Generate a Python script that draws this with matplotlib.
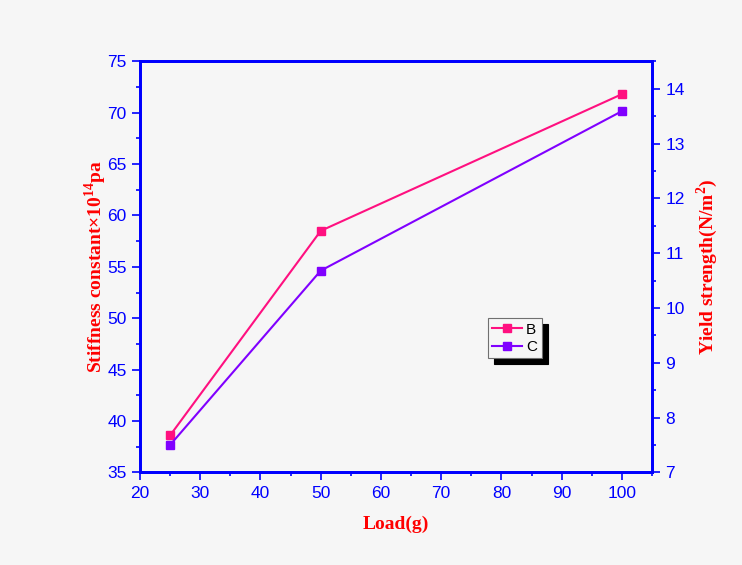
import numpy as np
import matplotlib.pyplot as plt
from matplotlib.ticker import MultipleLocator

plt.rcParams['font.family'] = ['Liberation Sans', 'DejaVu Sans']
plt.rcParams['mathtext.fontset'] = 'custom'
plt.rcParams['mathtext.rm'] = 'Liberation Serif:bold'
plt.rcParams['mathtext.bf'] = 'Liberation Serif:bold'

# data
load = [25, 50, 100]
stiffness_B = [38.6, 58.5, 71.8]   # left axis
yield_C = [7.50, 10.68, 13.59]     # right axis

blue = '#0000FF'
red = '#FF0000'
bg = '#F6F6F6'

fig = plt.figure(figsize=(7.42, 5.65), dpi=100, facecolor=bg)
ax = fig.add_axes([0.1887, 0.164, 0.69, 0.7275], facecolor=bg)
ax2 = ax.twinx()

l1, = ax.plot(load, stiffness_B, color='#FF1080', marker='s', markersize=6,
              linewidth=1.5, label='B')
l2, = ax2.plot(load, yield_C, color='#8000FF', marker='s', markersize=6,
               linewidth=1.5, label='C')

ax.set_xlim(20, 105)
ax.set_ylim(35, 75)
ax2.set_ylim(7, 14.5)

ax.xaxis.set_major_locator(MultipleLocator(10))
ax.xaxis.set_minor_locator(MultipleLocator(5))
ax.yaxis.set_major_locator(MultipleLocator(5))
ax.yaxis.set_minor_locator(MultipleLocator(2.5))
ax2.yaxis.set_major_locator(MultipleLocator(1))
ax2.yaxis.set_minor_locator(MultipleLocator(0.5))

for a in (ax, ax2):
    for s in a.spines.values():
        s.set_color(blue)
        s.set_linewidth(2)
    a.tick_params(which='major', direction='out', length=6, width=1.2,
                  color=blue, labelcolor=blue, labelsize=12.5)
    a.tick_params(which='minor', direction='out', length=3, width=1.2,
                  color=blue)

lab = dict(color=red, fontsize=14, fontweight='bold', family='Liberation Serif')
ax.set_xlabel('Load(g)', labelpad=11, **lab)
ax.set_ylabel('Stiffness constant\u00d710$^{14}$pa', labelpad=-1, **lab)
ax2.set_ylabel('Yield strength(N/m$^{2}$)', labelpad=7, **lab)

leg = ax2.legend(handles=[l1, l2], loc='center', bbox_to_anchor=(0.732, 0.326),
                 fancybox=False, framealpha=1, facecolor=bg,
                 edgecolor='#707070', handlelength=1.9, handletextpad=0.3,
                 borderpad=0.3, labelspacing=0.2,
                 shadow={'ox': 4.3, 'oy': -4.3, 'color': 'black', 'alpha': 1},
                 prop={'family': 'Liberation Sans', 'size': 11})
leg.get_frame().set_linewidth(0.8)

fig.savefig('out.png', dpi=100, facecolor=bg)
